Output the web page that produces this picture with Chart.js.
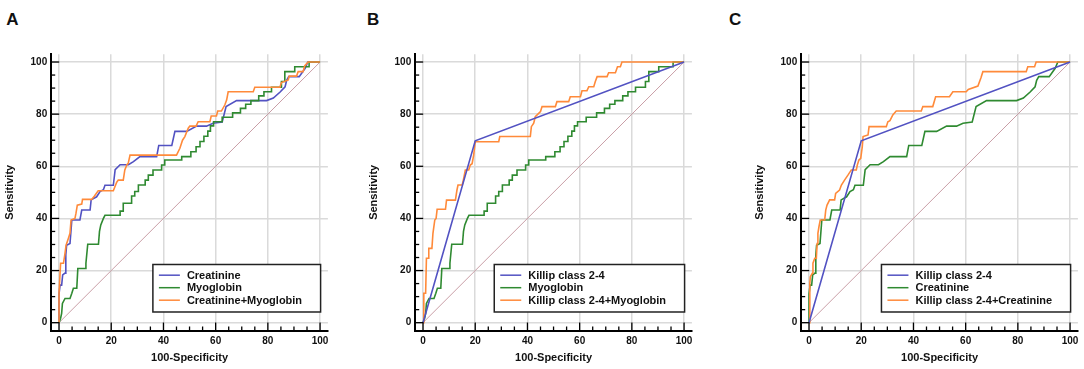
<!DOCTYPE html>
<html>
<head>
<meta charset="utf-8">
<script src="https://cdn.jsdelivr.net/npm/chart.js@4.4.1/dist/chart.umd.min.js"></script>
<style>
  html, body { margin: 0; padding: 0; background: #fff; overflow: hidden; }
  body { width: 1084px; height: 369px; position: relative; }
  .panel { position: absolute; top: 0; width: 340px; height: 369px; }
  .letter { position: absolute; top: 9.5px; line-height: 17px; font: bold 17px 'Liberation Sans', Arial, sans-serif; color: #111; }
</style>
</head>
<body>
<div class="letter" style="left:6.2px">A</div>
<div class="letter" style="left:367px">B</div>
<div class="letter" style="left:729px">C</div>
<div class="panel" style="left:0px"><canvas id="rocA"></canvas></div>
<div class="panel" style="left:363.7px"><canvas id="rocB"></canvas></div>
<div class="panel" style="left:750.3px"><canvas id="rocC"></canvas></div>
<script>
// ROC curves (100-Specificity vs Sensitivity, in %)
const tickValues = [0, 5, 10, 15, 20, 25, 30, 35, 40, 45, 50, 55, 60, 65, 70, 75, 80, 85, 90, 95, 100];

const refFpr = [0, 100];
const refTpr = [0, 100];

const creatFpr = [0, 0, 0.4, 1, 1.4, 2.3, 2.6, 2.9, 4.2, 4.9, 8, 8.7, 11.9, 12.3, 14.4, 15.7, 17, 17.6, 20.8, 21.5, 23.4, 26.6, 28.5, 31, 37.4, 38.2, 43.2, 44.4, 48.9, 52.7, 56.5, 59, 62.5, 64, 68, 79.5, 82.1, 84.7, 86.6, 87.2, 88, 92, 94.3, 95.3, 100];
const creatTpr = [0, 11, 14.4, 14.4, 18.3, 19, 26, 29.7, 30.4, 39.4, 39.4, 43.2, 43.2, 47.1, 48.3, 50.3, 51, 52.7, 52.7, 58.7, 60.6, 60.6, 61.8, 63.7, 63.7, 68, 68, 73.4, 73.4, 75.4, 75.4, 76.5, 77, 82.9, 85.2, 85.2, 86.2, 88.5, 90.5, 93, 94.4, 94.4, 97.6, 100, 100];

const myoFpr = [0, 0.6, 1, 1.3, 2.3, 4.2, 4.9, 5.5, 6.8, 7.2, 10, 10.3, 11, 15.1, 15.5, 16, 17, 17.6, 23.4, 23.4, 24.6, 24.6, 27.8, 27.8, 29, 29, 30.4, 30.4, 33, 33, 34.2, 34.2, 36, 36, 39.3, 39.3, 40.5, 40.5, 47, 47, 50.5, 50.5, 52.5, 52.5, 54, 54, 55.5, 55.5, 57, 57, 58, 58, 59.2, 59.2, 62.5, 62.5, 66.5, 66.5, 69.5, 69.5, 71.5, 71.5, 73.5, 73.5, 76.5, 76.5, 78.5, 78.5, 81.4, 81.4, 85.2, 85.2, 86.5, 86.5, 90.3, 90.3, 95.8, 95.8, 100];
const myoTpr = [0, 1.7, 3.6, 7.4, 9.3, 9.3, 11.3, 13.2, 13.2, 20.8, 20.8, 22.8, 30.1, 30.1, 35, 37.5, 40, 41.2, 41.2, 42.8, 42.8, 45.8, 45.8, 48.6, 48.6, 50.3, 50.3, 52.8, 52.8, 54.7, 54.7, 56.6, 56.6, 58.6, 58.6, 60.5, 60.5, 62.4, 62.4, 63.7, 63.7, 65.6, 65.6, 67.5, 67.5, 69.5, 69.5, 71.5, 71.5, 73.5, 73.5, 75.5, 75.5, 77.1, 77.1, 78.8, 78.8, 80.5, 80.5, 82.2, 82.2, 83.8, 83.8, 85.2, 85.2, 87, 87, 88.6, 88.6, 90.3, 90.3, 92.5, 92.5, 96.3, 96.3, 98.2, 98.2, 100, 100];

const killipFpr = [0, 20, 100];
const killipTpr = [0, 69.8, 100];

const creatMyoFpr = [0, 0, 0.6, 1.7, 2.2, 2.7, 3.6, 4.2, 4.6, 6.1, 6.5, 7, 8.7, 9, 12.5, 13.5, 15, 20.8, 22.1, 22.7, 24.6, 25.2, 26, 26.5, 27.2, 45, 46.3, 47.3, 48.2, 49.5, 50.1, 52.5, 53.3, 57.8, 58.3, 60.3, 60.8, 62.2, 63.5, 64.2, 64.8, 74.4, 75, 84.6, 85.2, 87.8, 88.2, 91, 91.6, 93.5, 94.1, 95.4, 100];
const creatMyoTpr = [0, 11.3, 22.8, 22.8, 26, 29.7, 32.4, 34.3, 39.4, 40, 42, 45.1, 45.5, 47.3, 47.3, 48.5, 50.6, 50.6, 53.9, 54.7, 54.7, 58.6, 60.6, 61.1, 64.3, 64.3, 66.9, 70, 71.4, 74.6, 75.4, 75.4, 77.1, 77.1, 79.3, 79.3, 81.2, 81.2, 83.5, 85.4, 88.6, 88.6, 90.3, 90.3, 92.1, 93.1, 94.6, 94.6, 96.3, 96.3, 98.5, 100, 100];

const killipMyoFpr = [0, 0.3, 1, 1.3, 2, 2.2, 3.4, 3.8, 4.5, 5, 5.4, 8.6, 9, 12.4, 13, 13.4, 15, 15.5, 16.2, 17.5, 18.1, 18.8, 19.4, 20, 29, 29.4, 41.1, 41.5, 42.4, 43, 45, 45.6, 50.7, 51.3, 55.8, 56.4, 60.3, 60.9, 62.8, 63.5, 65.4, 66, 66.7, 70.5, 71.1, 73.7, 74.5, 75.6, 76.2, 100];
const killipMyoTpr = [0, 11.3, 11.3, 24.7, 24.7, 28.5, 28.5, 34.3, 39.4, 40, 43.5, 43.5, 47, 47, 50.9, 52.8, 52.8, 55, 58.6, 58.6, 60.5, 61, 64.3, 69.4, 69.4, 71.4, 71.4, 75.2, 76.5, 79, 81, 82.9, 82.9, 84.8, 84.8, 86.7, 86.7, 89, 89, 90.5, 90.5, 92.5, 94.4, 94.4, 95.9, 95.9, 98.2, 98.2, 100, 100];

const killipCreatFpr = [0, 0.3, 0.5, 1.3, 1.5, 2.2, 2.8, 3.1, 3.4, 3.8, 4.3, 6, 6.4, 6.9, 7.9, 9.8, 10.2, 11.7, 12.4, 13.6, 14.9, 16.2, 18.1, 18.5, 19.1, 19.8, 20.4, 20.7, 22.6, 23, 29.6, 30.2, 31, 32.1, 33.4, 43, 43.6, 47.4, 48.5, 53.8, 55.1, 60.2, 61, 64.7, 65.9, 66.6, 83.2, 83.8, 86.4, 87, 100];
const killipCreatTpr = [0, 15, 17.6, 19, 22.8, 24.7, 24.7, 30.4, 34.3, 36.8, 39.4, 39.4, 43.2, 45.1, 47.1, 47.1, 49.6, 50.9, 52.8, 54.7, 56.6, 58.6, 58.6, 60.5, 62.4, 63, 67.5, 71.4, 72, 75.2, 75.2, 77.1, 77.5, 79.7, 81.2, 81.2, 82.9, 82.9, 86.7, 86.7, 88.6, 88.6, 89.5, 90.8, 94.1, 96.3, 96.3, 98.2, 98.2, 100, 100];

const BLUE = '#5252c2';
const GREEN = '#2f8a31';
const ORANGE = '#ff8a3a';
const FONT = "'Liberation Sans', Arial, sans-serif";

function points(xs, ys) {
    return xs.map((v, i) => ({ x: v, y: ys[i] }));
}

function curve(label, xs, ys, color, order) {
    return {
        label: label,
        data: points(xs, ys),
        borderColor: color,
        borderWidth: 1.6,
        showLine: true,
        pointRadius: 0,
        tension: 0,
        order: order
    };
}

// small inward tick marks on both axes
const innerTicks = {
    id: 'innerTicks',
    afterDraw(chart) {
        const { ctx, chartArea, scales } = chart;
        ctx.save();
        ctx.strokeStyle = '#000';
        ctx.lineWidth = 1.3;
        tickValues.forEach(v => {
            const len = v % 20 === 0 ? 8 : 4;
            const py = scales.y.getPixelForValue(v);
            ctx.beginPath();
            ctx.moveTo(chartArea.left, py);
            ctx.lineTo(chartArea.left + len, py);
            ctx.stroke();
            const px = scales.x.getPixelForValue(v);
            ctx.beginPath();
            ctx.moveTo(px, chartArea.bottom);
            ctx.lineTo(px, chartArea.bottom - len);
            ctx.stroke();
        });
        ctx.restore();
    }
};

// boxed legend in the lower right corner
const legendBox = {
    id: 'legendBox',
    afterDatasetsDraw(chart) {
        const { ctx, scales } = chart;
        const items = chart.data.datasets.filter(d => d.label);
        ctx.save();
        ctx.font = 'bold 11px ' + FONT;
        const textW = Math.max(...items.map(d => ctx.measureText(d.label).width));
        const right = scales.x.getPixelForValue(100.2);
        const bottom = scales.y.getPixelForValue(4.1);
        const w = textW + 52.5, h = 47.5;
        const left = right - w, top = bottom - h;
        ctx.fillStyle = '#fff';
        ctx.fillRect(left, top, w, h);
        ctx.strokeStyle = '#222';
        ctx.lineWidth = 1.5;
        ctx.strokeRect(left, top, w, h);
        items.forEach((d, i) => {
            const cy = top + 10.7 + i * 12.5;
            ctx.strokeStyle = d.borderColor;
            ctx.lineWidth = 1.5;
            ctx.beginPath();
            ctx.moveTo(left + 6, cy);
            ctx.lineTo(left + 27, cy);
            ctx.stroke();
            ctx.fillStyle = '#111';
            ctx.textBaseline = 'middle';
            ctx.fillText(d.label, left + 34, cy + 0.5);
        });
        ctx.restore();
    }
};

function axis(title, isX) {
    return {
        type: 'linear',
        min: -3,
        max: 103,
        afterBuildTicks: s => { s.ticks = tickValues.map(v => ({ value: v })); },
        afterFit: s => {
            if (isX) { s.height = 38.5; s.paddingLeft = 0; s.paddingRight = 0; }
            else { s.width = 51.2; s.paddingTop = 0; s.paddingBottom = 0; }
        },
        grid: {
            drawTicks: false,
            lineWidth: 1.5,
            color: c => (c.tick && c.tick.value % 20 === 0) ? '#dadada' : 'rgba(0,0,0,0)'
        },
        border: { display: true, color: '#000', width: 2 },
        ticks: {
            autoSkip: false,
            maxRotation: 0,
            padding: isX ? 5 : 4,
            color: '#111',
            font: { family: FONT, size: 10, weight: 'bold' },
            callback: v => v % 20 === 0 ? String(v) : ''
        },
        title: {
            display: true,
            text: title,
            color: '#111',
            font: { family: FONT, size: 11, weight: 'bold' },
            padding: isX ? { top: 0, bottom: 4.4 } : { top: 3.1, bottom: 0 }
        }
    };
}

function makeRoc(id, sets) {
    const ref = {
        data: points(refFpr, refTpr),
        borderColor: '#c99ea6',
        borderWidth: 1,
        showLine: true,
        pointRadius: 0,
        order: 9
    };
    new Chart(document.getElementById(id), {
        type: 'scatter',
        data: { datasets: sets.concat([ref]) },
        options: {
            responsive: true,
            maintainAspectRatio: false,
            animation: false,
            layout: { padding: { top: 54.2, right: 12.1, left: 0, bottom: 0 } },
            plugins: { legend: { display: false }, tooltip: { enabled: false } },
            scales: {
                x: axis('100-Specificity', true),
                y: axis('Sensitivity', false)
            }
        },
        plugins: [innerTicks, legendBox]
    });
}

makeRoc('rocA', [
    curve('Creatinine', creatFpr, creatTpr, BLUE, 3),
    curve('Myoglobin', myoFpr, myoTpr, GREEN, 2),
    curve('Creatinine+Myoglobin', creatMyoFpr, creatMyoTpr, ORANGE, 1)
]);

makeRoc('rocB', [
    curve('Killip class 2-4', killipFpr, killipTpr, BLUE, 1),
    curve('Myoglobin', myoFpr, myoTpr, GREEN, 3),
    curve('Killip class 2-4+Myoglobin', killipMyoFpr, killipMyoTpr, ORANGE, 2)
]);

makeRoc('rocC', [
    curve('Killip class 2-4', killipFpr, killipTpr, BLUE, 1),
    curve('Creatinine', creatFpr, creatTpr, GREEN, 3),
    curve('Killip class 2-4+Creatinine', killipCreatFpr, killipCreatTpr, ORANGE, 2)
]);
</script>
</body>
</html>
